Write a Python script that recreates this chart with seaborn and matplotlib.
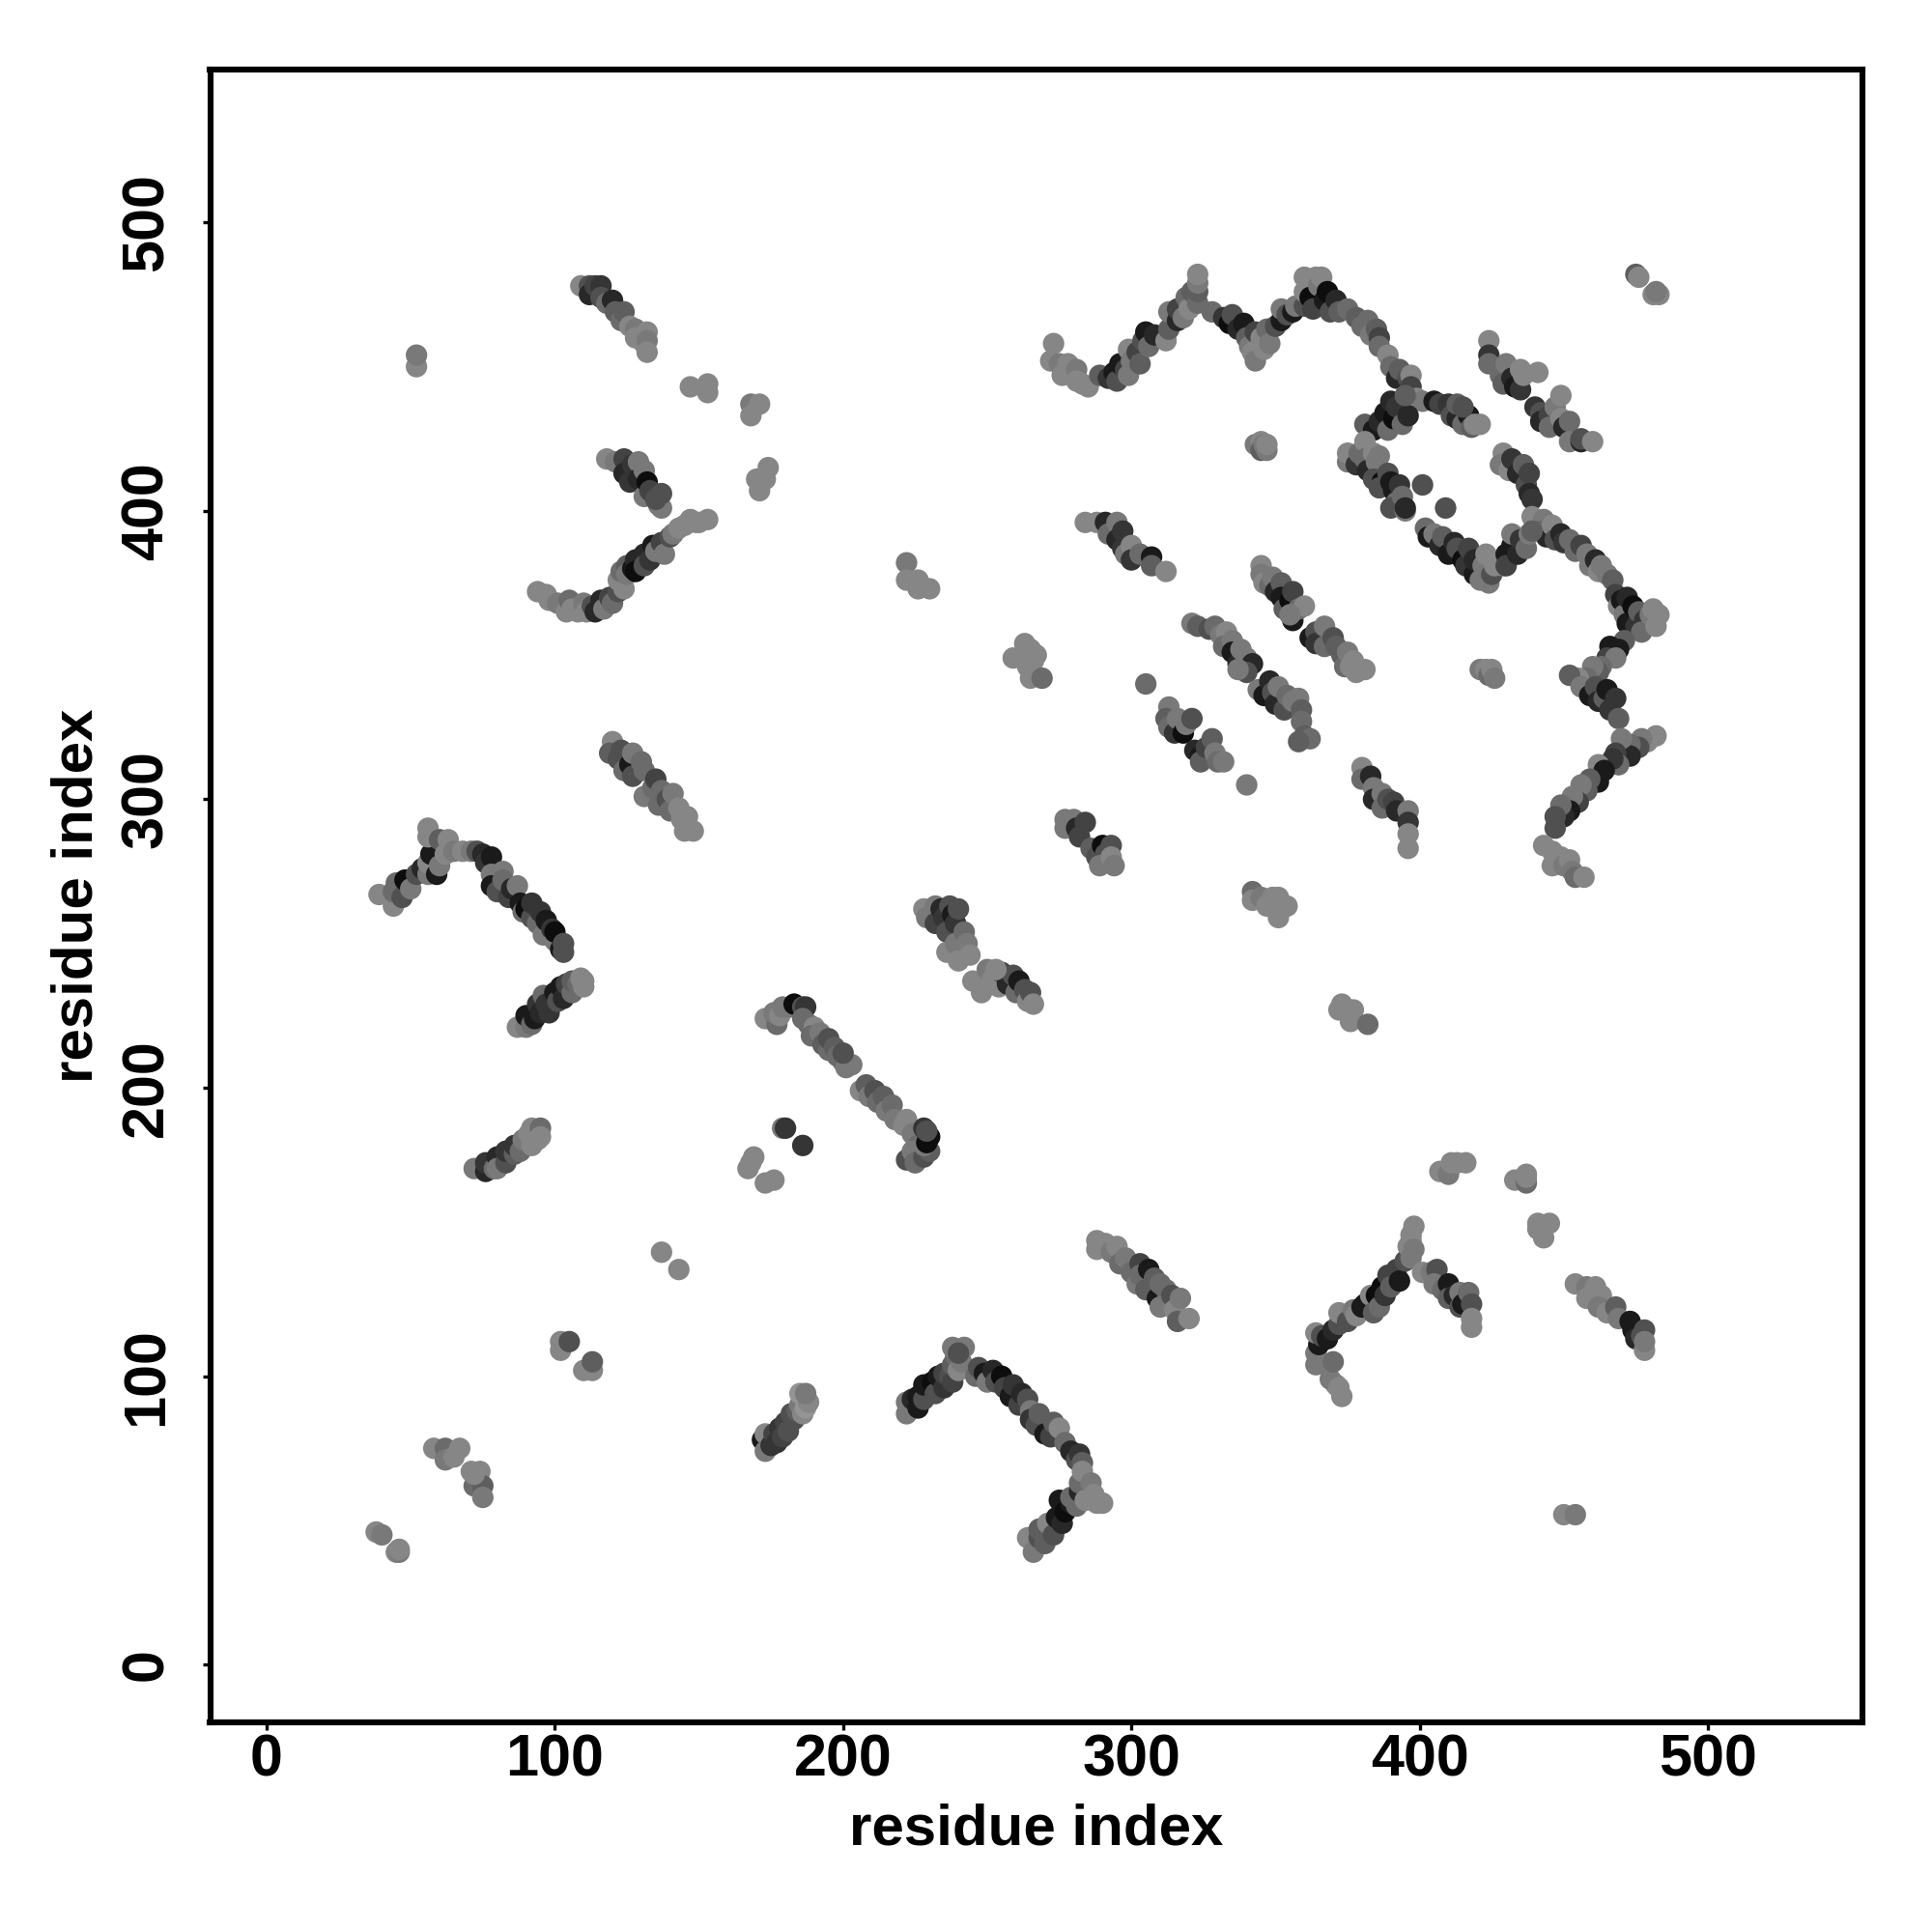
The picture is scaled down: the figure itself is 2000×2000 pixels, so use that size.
#!/usr/bin/env python3
import matplotlib
matplotlib.use("Agg")
import matplotlib.pyplot as plt
import pandas as pd
import seaborn as sns

# every entry: (residue i, residue j, grey shade)
corner_pairs = [(38,46,.5),(40,45,.45),(45,39,.5),(46,39,.45),(46,40,.5)]
low_blob = [(58,75,.5),(62,75,.4),(62,71,.45),(65,72,.5),(67,75,.5),(71,67,.5),(74,67,.5),(72,62,.4),(75,62,.35),(75,58,.45),(72,66,.5)]
low_pairs = [(102,112,.5),(102,109,.5),(105,112,.3),(110,102,.5),(113,102,.5),(113,105,.35),(137,143,.5),(143,137,.5)]
strand_172 = [(172,78,.1),(173,80,.5),(173,74,.45),(175,76,.2),(176,80,.25),(177,77,.2),(178,82,.2),(179,79,.25),(180,84,.25),(181,81,.3),(182,87,.3),(183,85,.3),(184,88,.35),(185,90,.45),(186,87,.5),(185,94,.55),(187,89,.55),(188,91,.5),(187,94,.45)]
strand_222 = [(222,87,.45),(222,91,.45),(224,92,.15),(226,89,.1),(226,93,.1),(228,92,.3),(228,97,.1),(231,98,.05),(232,94,.3),(233,100,.1),(235,96,.2),(235,101,.25),(237,100,.3),(238,98,.25),(238,104,.35),(239,107,.4),(240,102,.5),(238,110,.45),(241,105,.45),(242,110,.45),(240,108,.3)]
strand_87 = [(87,221,.5),(90,221,.45),(90,225,.1),(92,222,.4),(93,224,.1),(94,229,.2),(95,226,.15),(96,232,.4),(97,229,.2),(98,226,.2),(100,233,.1),(101,230,.3),(102,235,.1),(103,231,.15),(104,236,.25),(106,233,.4),(106,237,.35),(108,236,.4),(110,235,.5),(110,237,.5),(109,238,.5)]
strand_72 = [(72,172,.45),(76,171,.15),(76,174,.2),(79,172,.4),(80,176,.15),(80,172,.45),(83,174,.3),(83,178,.2),(86,177,.35),(86,180,.2),(88,178,.4),(89,182,.45),(91,184,.5),(92,180,.5),(94,182,.5),(92,186,.5),(95,186,.4),(95,183,.5)]
mid_pairs = [(167,172,.5),(168,174,.5),(169,176,.5),(173,167,.5),(176,168,.5),(179,186,.45),(180,186,.2),(186,180,.2)]
long_diag = [(173,224,.5),(177,222,.4),(176,226,.45),(178,225,.5),(179,228,.45),(182,228,.45),(183,229,.05),(186,228,.3),(187,228,.2),(186,224,.4),(188,222,.4),(190,221,.5),(189,218,.4),(192,219,.45),(193,215,.35),(195,213,.4),(195,217,.3),(197,214,.35),(198,211,.4),(200,209,.4),(201,207,.45),(203,208,.45),(200,212,.3),(206,199,.5),(208,201,.35),(209,197,.45),(211,199,.3),(212,195,.4),(214,197,.35),(215,192,.45),(217,194,.4),(218,189,.45),(221,187,.5),(222,189,.5),(224,184,.45),(226,180,.4),(222,175,.3),(224,178,.45),(225,174,.4),(228,176,.3),(230,178,.35),(228,180,.45),(229,181,.05),(228,186,.2),(230,183,.05),(229,185,.3)]
arm_246 = [(246,100,.4),(247,103,.3),(249,101,.1),(250,98,.45),(252,102,.15),(253,98,.3),(255,100,.05),(256,96,.25),(258,93,.1),(259,97,.2),(261,90,.25),(262,94,.15),(264,92,.3),(265,88,.45),(265,85,.2),(267,83,.3),(268,87,.35),(270,80,.1),(272,79,.25),(273,84,.35),(275,82,.5),(277,77,.4),(279,74,.15),(281,71,.3),(282,73,.2),(283,70,.35)]
arm_266 = [(264,44,.5),(266,39,.45),(268,44,.3),(268,47,.35),(270,42,.35),(271,49,.5),(273,45,.3),(274,51,.1),(275,57,.1),(276,49,.15),(277,53,.05),(279,56,.1),(279,58,.4),(281,55,.4),(282,60,.15),(282,63,.4),(283,67,.5),(284,57,.5),(286,63,.45),(287,59,.5),(290,56,.5),(288,56,.5)]
strand_288 = [(288,147,.5),(288,144,.5),(291,146,.5),(293,143,.45),(295,145,.5),(296,139,.4),(298,141,.45),(300,136,.4),(302,132,.45),(303,139,.25),(303,135,.4),(306,137,.1),(305,130,.35),(308,134,.35),(309,127,.1),(310,132,.4),(312,130,.4),(310,124,.45),(314,128,.3),(315,123,.5),(317,127,.45),(316,119,.35),(320,120,.5)]
arc_364 = [(373,93,.5),(371,97,.5),(369,99,.45),(372,96,.5),(364,104,.45),(364,108,.45),(367,104,.45),(370,105,.4),(365,111,.1),(364,115,.5),(366,114,.3),(368,113,.1),(370,116,.15),(372,118,.3),(372,122,.5),(375,119,.3),(377,123,.45),(378,121,.5),(380,124,.1),(381,125,.1),(383,128,.5),(384,122,.35),(385,128,.05),(386,124,.4),(387,131,.05),(388,128,.2),(389,135,.25),(390,131,.35),(392,137,.25),(393,133,.1),(395,140,.3),(396,145,.5),(397,141,.45),(397,147,.5),(397,149,.5),(398,152,.5),(398,144,.45)]
arc_401 = [(401,136,.5),(404,136,.45),(406,137,.3),(405,132,.45),(408,130,.4),(410,132,.1),(410,127,.35),(412,128,.15),(414,124,.3),(414,129,.45),(415,125,.1),(417,129,.4),(418,125,.3),(418,120,.5),(418,117,.5)]
right_blobs = [(407,171,.5),(410,170,.45),(411,174,.5),(413,174,.5),(416,174,.5),(433,168,.5),(437,167,.4),(437,169,.5),(437,170,.5),(441,153,.5),(445,153,.5),(443,148,.5),(441,151,.5)]
strand_454 = [(454,132,.5),(458,131,.45),(461,131,.5),(458,127,.5),(463,128,.5),(462,124,.45),(465,122,.5),(468,124,.35),(469,120,.45),(473,119,.1),(474,116,.1),(475,113,.15),(477,114,.3),(478,116,.3),(478,109,.5),(478,112,.45)]
far_pair = [(450,52,.5),(454,52,.45)]
block_228 = [(228,262,.5),(229,259,.45),(232,263,.45),(232,257,.25),(234,262,.15),(235,259,.2),(236,254,.3),(237,263,.3),(238,260,.1),(239,257,.2),(240,262,.3),(236,247,.5),(239,250,.45),(240,244,.5),(242,254,.4),(243,250,.45),(244,246,.5)]
block_245 = [(245,237,.5),(247,236,.5),(248,233,.5),(250,241,.45),(252,238,.5),(254,235,.5),(255,240,.25),(257,236,.15),(259,239,.3),(260,233,.4),(261,237,.1),(263,234,.3),(264,230,.5),(265,233,.3),(266,229,.5),(253,241,.5)]
top_pair = [(52,450,.5),(52,454,.45)]
strand_109 = [(109,478,.5),(112,478,.3),(112,475,.15),(114,478,.25),(116,478,.2),(116,474,.3),(118,472,.4),(120,473,.15),(121,469,.35),(123,466,.4),(124,469,.35),(126,464,.5),(128,463,.45),(128,460,.5),(131,458,.5),(132,462,.5),(132,459,.45),(132,455,.5)]
upper_bits = [(147,443,.5),(153,444,.5),(153,441,.5),(168,437,.45),(171,437,.5),(168,433,.5),(174,415,.5),(170,411,.5),(173,411,.5),(171,407,.5),(222,382,.45),(222,376,.5),(226,376,.5),(226,373,.5),(230,373,.5)]
strand_118 = [(118,418,.5),(121,417,.45),(124,418,.25),(124,413,.15),(126,410,.2),(127,416,.2),(129,417,.45),(129,411,.15),(131,414,.45),(131,405,.45),(132,410,.05),(133,407,.25),(136,402,.45),(137,401,.45),(137,406,.3),(135,404,.3)]
arc_94 = [(94,372,.5),(97,371,.5),(98,369,.5),(101,368,.45),(104,365,.5),(105,369,.4),(106,366,.5),(108,365,.5),(110,368,.45),(111,365,.5),(113,367,.3),(114,365,.15),(116,369,.15),(117,366,.45),(119,370,.25),(120,368,.4),(122,372,.3),(124,373,.5),(122,376,.5),(123,379,.4),(125,381,.35),(125,378,.45),(127,380,.1),(128,383,.15),(128,379,.05),(131,385,.15),(131,381,.3),(133,383,.2),(134,388,.1),(135,386,.45),(137,389,.25),(138,385,.45),(140,391,.3),(141,392,.45),(143,394,.5),(145,395,.5),(147,397,.5),(149,396,.5),(150,396,.5),(153,397,.5)]
strand_120 = [(120,320,.5),(119,316,.35),(122,314,.3),(123,317,.3),(124,310,.4),(126,312,.1),(127,316,.45),(127,308,.3),(130,313,.4),(131,310,.4),(131,301,.45),(134,304,.4),(135,307,.25),(136,298,.4),(137,303,.4),(139,300,.3),(140,296,.4),(141,302,.45),(143,297,.5),(144,293,.5),(146,294,.5),(145,289,.5),(148,289,.5)]
hook_39 = [(39,267,.5),(44,263,.5),(44,268,.4),(45,271,.4),(47,266,.3),(48,272,.05),(50,269,.45),(52,274,.3),(54,276,.15),(56,274,.45),(56,278,.5),(57,281,.1),(59,274,.1),(60,277,.45),(56,290,.5),(56,287,.5),(60,286,.35),(63,286,.5),(62,281,.5),(65,282,.45),(68,282,.5),(71,282,.45),(73,282,.3),(75,281,.15),(76,278,.2),(78,280,.1),(78,274,.45),(82,275,.45),(78,270,.1),(80,268,.3),(82,272,.4),(84,266,.25),(85,269,.15),(87,270,.45),(88,264,.1),(89,261,.4),(90,262,.05),(92,259,.3),(92,264,.2),(94,257,.4),(95,261,.2),(96,253,.45),(97,258,.1),(99,255,.2),(100,251,.45),(100,254,.05),(102,248,.1),(103,250,.3),(103,247,.3)]
ridge_272 = [(273,458,.5),(272,452,.5),(275,451,.45),(276,447,.5),(278,451,.5),(279,448,.5),(281,449,.45),(281,445,.5),(283,444,.5),(285,443,.5),(289,447,.35),(292,446,.2),(294,448,.1),(295,445,.3),(296,451,.1),(298,449,.25),(299,447,.45),(299,456,.5),(300,452,.45),(302,455,.25),(303,451,.35),(304,459,.3),(305,462,.1),(306,457,.4),(308,461,.15),(312,459,.5),(313,463,.35),(313,469,.45),(316,466,.15),(316,470,.25),(318,467,.45),(319,474,.4),(320,470,.5),(321,476,.35),(323,472,.4),(323,476,.35),(323,479,.45),(323,482,.5)]
ridge_328 = [(328,469,.4),(332,467,.2),(334,465,.05),(335,468,.3),(337,463,.15),(339,465,.1),(340,460,.35),(341,457,.45),(343,462,.25),(342,455,.5),(343,452,.45),(345,460,.5),(346,456,.5),(347,463,.4),(348,458,.45),(350,464,.3),(352,466,.1),(352,470,.45),(354,468,.3),(356,469,.1),(357,471,.45),(360,471,.3),(360,481,.5),(360,476,.5),(362,474,.05),(363,470,.25),(364,481,.5),(365,478,.45),(366,481,.5),(367,473,.1),(368,476,.05),(369,469,.3),(371,473,.15),(372,469,.35),(375,470,.4),(378,467,.35),(380,464,.4),(382,466,.4),(383,461,.45),(385,463,.35),(386,460,.25),(386,457,.4),(389,454,.5),(390,450,.4),(392,446,.15),(393,449,.35),(396,446,.3),(397,447,.5),(397,443,.25),(399,439,.5),(401,438,.45)]
branch_381 = [(381,430,.35),(384,428,.1),(386,431,.15),(388,434,.1),(389,428,.4),(390,438,.15),(391,432,.05),(392,436,.2),(394,430,.4),(396,433,.15),(395,440,.35)]
branch_405 = [(405,438,.1),(407,437,.25),(410,437,.2),(411,433,.3),(413,432,.15),(413,437,.35),(415,430,.4),(417,433,.1),(418,429,.35),(419,430,.5),(421,430,.5),(415,436,.3)]
strand_424 = [(424,459,.5),(424,454,.2),(424,451,.4),(428,447,.4),(430,451,.45),(429,444,.35),(432,446,.15),(433,443,.1),(435,442,.2),(435,449,.5),(436,447,.5),(441,448,.5)]
strand_440 = [(440,436,.2),(442,434,.3),(442,431,.15),(445,433,.25),(445,429,.4),(447,436,.45),(449,440,.5),(449,432,.5),(450,429,.15),(452,431,.4),(452,424,.45),(456,424,.15),(456,425,.3),(460,424,.5)]
strand_429 = [(429,420,.5),(428,416,.45),(431,414,.5),(432,418,.2),(434,413,.15),(436,416,.35),(437,409,.3),(438,413,.25),(438,406,.15),(439,404,.2)]
edge_439 = [(439,398,.5),(443,397,.45),(442,393,.4),(444,391,.15),(446,395,.5),(447,390,.3),(449,392,.15),(450,389,.2),(452,390,.4),(454,386,.4),(456,388,.25),(458,385,.45),(459,381,.45),(461,383,.15),(462,379,.5),(463,381,.45),(465,378,.45),(467,376,.35),(468,371,.25),(469,367,.5),(470,369,.1),(471,364,.45),(472,370,.15),(472,361,.1),(474,367,.05),(475,360,.2),(476,365,.35),(478,362,.2),(477,358,.4),(480,364,.45),(481,366,.5),(482,360,.5),(483,364,.5)]
edge_452 = [(471,355,.35),(469,352,.1),(466,353,.1),(465,349,.25),(468,349,.45),(463,346,.4),(462,344,.35),(460,346,.45),(458,342,.4),(455,342,.5),(452,343,.35),(456,339,.45),(459,336,.1),(461,339,.3),(462,334,.15),(464,335,.35),(465,338,.1),(466,331,.2),(468,335,.2),(469,328,.35)]
edge_447 = [(482,322,.5),(479,320,.5),(477,321,.45),(476,318,.3),(473,319,.4),(473,315,.15),(470,321,.45),(468,316,.25),(469,312,.4),(467,314,.2),(462,312,.5),(464,310,.1),(462,306,.1),(459,307,.35),(458,303,.35),(456,305,.45),(455,299,.25),(453,301,.45),(452,296,.1),(450,294,.15),(449,298,.4),(447,294,.3),(447,290,.3)]
tail_443 = [(443,284,.5),(446,282,.5),(446,277,.5),(449,280,.5),(450,277,.45),(452,279,.5),(453,275,.45),(454,273,.4),(457,273,.5)]
loop_375 = [(375,417,.45),(375,420,.5),(378,416,.2),(379,420,.4),(381,424,.5),(381,418,.4),(382,414,.15),(384,420,.5),(385,417,.45),(386,419,.45),(384,411,.3),(387,410,.05),(386,408,.3),(389,413,.3),(390,410,.1),(391,407,.1),(393,409,.2),(392,403,.4),(390,401,.3),(394,405,.4),(395,400,.45),(395,401,.15),(401,409,.3),(409,401,.3)]
loop_402 = [(402,394,.4),(403,391,.1),(405,392,.45),(407,388,.15),(408,391,.35),(410,385,.1),(412,389,.15),(413,387,.3),(415,383,.05),(416,381,.2),(417,387,.25),(419,378,.1),(419,383,.15),(421,376,.45),(422,381,.45),(423,385,.5),(424,375,.45),(425,378,.3),(426,381,.5),(429,381,.5)]
loop_430 = [(430,385,.1),(430,381,.25),(432,388,.1),(432,392,.45),(434,385,.15),(435,390,.2),(437,387,.4),(438,392,.45),(439,393,.35)]
knot_345 = [(343,423,.45),(345,424,.5),(345,421,.35),(346,423,.45),(347,421,.45),(347,423,.5)]
knot_422 = [(421,345,.45),(423,345,.5),(424,343,.4),(425,345,.5),(426,342,.45)]
strand_284 = [(284,396,.5),(288,396,.5),(291,396,.15),(292,392,.4),(295,396,.45),(295,390,.15),(297,387,.2),(297,393,.2),(298,385,.45),(300,388,.5),(300,383,.2),(303,385,.4),(307,384,.1),(307,381,.35),(312,379,.5)]
strand_345 = [(345,381,.5),(345,378,.45),(346,375,.5),(348,374,.4),(349,377,.45),(350,372,.15),(352,375,.35),(352,370,.1),(353,366,.35),(355,369,.05),(356,372,.25),(356,362,.1),(358,366,.4),(360,367,.5),(355,364,.45)]
strand_362 = [(362,356,.1),(364,358,.3),(364,354,.2),(367,360,.45),(367,353,.4),(370,356,.3),(371,353,.35),(373,350,.35),(374,346,.4),(375,351,.45),(376,346,.5),(378,344,.5),(381,345,.5),(377,348,.5)]
strand_321 = [(321,361,.45),(323,360,.35),(327,359,.3),(329,360,.4),(331,357,.45),(333,358,.5),(332,353,.4),(335,355,.45),(335,351,.1),(337,347,.15),(338,352,.45),(340,349,.45),(342,347,.15),(340,344,.3),(337,345,.45)]
strand_344 = [(344,338,.45),(346,336,.1),(348,341,.15),(349,337,.3),(350,333,.15),(351,339,.45),(353,331,.3),(354,336,.4),(356,334,.45),(358,335,.45),(359,331,.35),(359,327,.4),(360,322,.35),(362,321,.4),(358,320,.35)]
strand_313 = [(305,340,.4),(313,332,.45),(312,328,.35),(313,325,.4),(315,323,.2),(316,328,.45),(318,323,.05),(319,326,.45),(321,328,.3)]
strand_322 = [(322,317,.15),(324,315,.1),(324,313,.35),(326,318,.25),(328,321,.35),(329,316,.45),(330,313,.4),(332,313,.45),(340,305,.45)]
strand_380 = [(380,311,.5),(380,307,.4),(383,308,.15),(384,304,.45),(384,300,.15),(387,302,.45),(387,297,.4),(389,300,.3),(391,299,.25),(392,296,.15),(396,296,.45),(396,292,.2),(396,288,.5),(396,283,.5)]
strand_277 = [(277,293,.45),(277,290,.45),(280,293,.45),(281,290,.15),(282,287,.25),(284,292,.25),(286,283,.35),(288,280,.3),(290,284,.05),(291,281,.3),(289,277,.45),(293,284,.3),(293,280,.5),(294,277,.45)]
blob_259 = [(259,349,.5),(263,354,.5),(263,350,.5),(265,352,.5),(267,350,.5),(264,346,.5),(266,348,.5),(265,342,.5),(269,342,.4)]
blob_342 = [(342,268,.4),(342,265,.5),(345,266,.45),(347,263,.5),(349,266,.5),(351,266,.5),(351,259,.5),(352,262,.5),(354,263,.5)]
blob_373 = [(373,229,.5),(372,227,.5),(376,226,.5),(377,227,.5),(376,223,.5),(382,222,.4)]
blob_475 = [(475,482,.35),(476,481,.5),(481,475,.5),(483,475,.5),(482,476,.45)]

clusters = [
    corner_pairs, low_blob, low_pairs, strand_172, strand_222, strand_87, strand_72, mid_pairs,
    long_diag, arm_246, arm_266, strand_288, arc_364, arc_401, right_blobs, strand_454, far_pair,
    block_228, block_245, top_pair, strand_109, upper_bits, strand_118, arc_94, strand_120, hook_39,
    ridge_272, ridge_328, branch_381, branch_405, strand_424, strand_440, strand_429, edge_439,
    edge_452, edge_447, tail_443, loop_375, loop_402, loop_430, knot_345, knot_422, strand_284,
    strand_345, strand_362, strand_321, strand_344, strand_313, strand_322, strand_380, strand_277,
    blob_259, blob_342, blob_373, blob_475,
]
tick_values = [0, 100, 200, 300, 400, 500]


def main() -> int:
    sns.set_theme(style="white")
    plt.rcParams["font.family"] = ["Liberation Sans", "DejaVu Sans"]
    plt.rcParams["font.weight"] = "bold"

    contacts = pd.DataFrame(
        [row for cluster in clusters for row in cluster],
        columns=["residue_i", "residue_j", "shade"],
    )

    fig = plt.figure(figsize=(10, 10), dpi=200)
    ax = fig.add_axes([0.10875, 0.1085, 0.85525, 0.8555])
    sns.scatterplot(
        data=contacts, x="residue_i", y="residue_j", hue="shade", palette="gray",
        hue_norm=(0, 0.95), s=64, linewidth=0, legend=False, ax=ax,
    )
    ax.set_xlim(-19.6, 553.6)
    ax.set_ylim(-20, 553)
    ax.set_xticks(tick_values)
    ax.set_yticks(tick_values)
    ax.tick_params(axis="both", length=3, width=1.2, color="black", labelsize=22, labelcolor="black", left=True, bottom=True)
    ax.tick_params(axis="x", pad=1)
    ax.tick_params(axis="y", pad=10)
    plt.setp(ax.get_yticklabels(), rotation=90, va="center")
    ax.set_xlabel("residue index", fontsize=21.6, fontweight="bold", color="black", labelpad=5.5)
    ax.set_ylabel("residue index", fontsize=21.6, fontweight="bold", color="black", labelpad=6)
    for spine in ax.spines.values():
        spine.set_linewidth(2.2)
        spine.set_color("black")

    fig.savefig("out.png", dpi=200, facecolor="white")
    plt.close(fig)
    return 0


if __name__ == "__main__":
    raise SystemExit(main())
